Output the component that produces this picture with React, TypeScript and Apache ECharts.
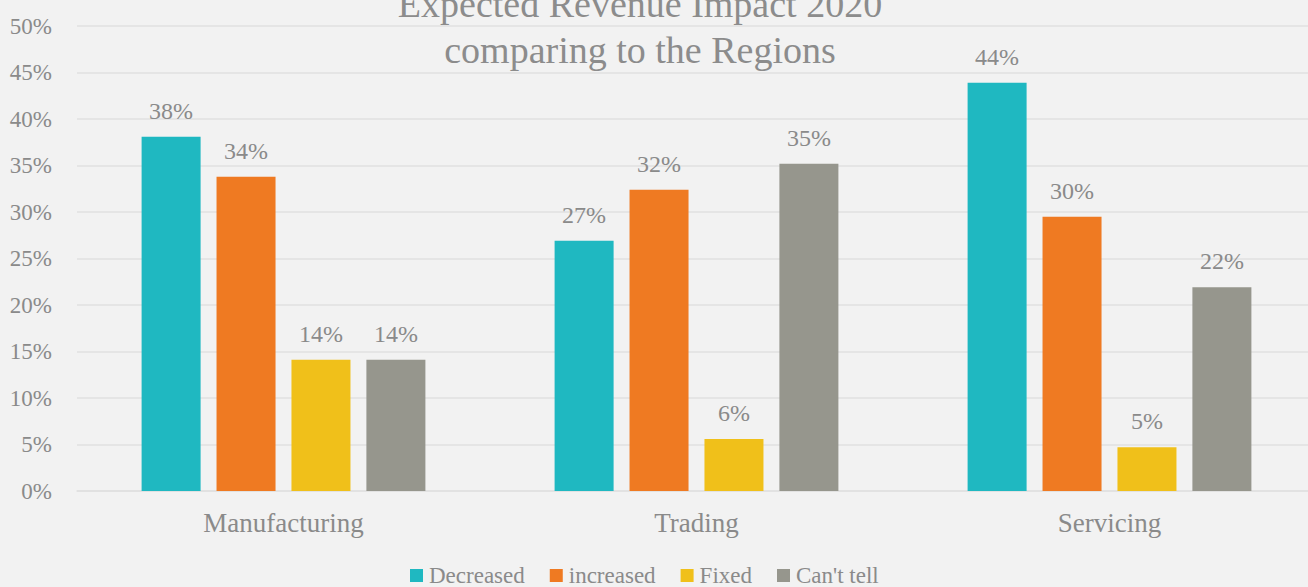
import React, { useEffect, useRef } from "react";
import * as echarts from "echarts";

const categories = ["Manufacturing", "Trading", "Servicing"];
const seriesNames = ["Decreased", "increased", "Fixed", "Can't tell"];
const decreased = [38.1, 26.9, 43.9];
const increased = [33.8, 32.4, 29.5];
const fixed = [14.1, 5.6, 4.7];
const cantTell = [14.1, 35.2, 21.9];
const colors = ["#1FB8C1", "#EF7A22", "#F0C01A", "#96968D"];
const titleText = "Expected Revenue Impact 2020\ncomparing to the Regions";

const FONT = "'Liberation Serif', 'Times New Roman', serif";
const TEXT = "#8a8a8a";

export default function App() {
  const ref = useRef<HTMLDivElement>(null);
  useEffect(() => {
    if (!ref.current) return;
    const chart = echarts.init(ref.current, undefined, { renderer: "svg" });
    const values = [decreased, increased, fixed, cantTell];
    chart.setOption({
      animation: false,
      backgroundColor: "#F2F2F2",
      textStyle: { fontFamily: FONT },
      title: {
        text: titleText,
        left: 635,
        top: -24,
        textAlign: "center",
        textStyle: {
          fontFamily: FONT,
          fontSize: 38,
          lineHeight: 46,
          fontWeight: "normal",
          color: "#8c8c8c",
        },
      },
      legend: {
        left: 405,
        top: 559,
        itemWidth: 13,
        itemHeight: 13,
        itemGap: 25,
        icon: "rect",
        textStyle: { fontFamily: FONT, fontSize: 23, color: TEXT, padding: [0, 0, 0, 1] },
        data: seriesNames,
      },
      grid: {
        left: 77,
        width: 1239,
        top: 26,
        bottom: 96,
        containLabel: false,
        outerBoundsMode: "none",
      },
      xAxis: {
        type: "category",
        data: categories,
        axisLine: { lineStyle: { color: "#E0E0E0", width: 1.5 } },
        axisTick: { show: false },
        axisLabel: { fontFamily: FONT, fontSize: 27, color: TEXT, margin: 18 },
      },
      yAxis: {
        type: "value",
        min: 0,
        max: 50,
        interval: 5,
        axisLine: { show: false },
        axisTick: { show: false },
        axisLabel: {
          fontFamily: FONT,
          fontSize: 23,
          color: TEXT,
          margin: 25,
          formatter: "{value}%",
        },
        splitLine: { lineStyle: { color: "#E0E0E0", width: 1.5 } },
      },
      series: seriesNames.map((name, i) => ({
        name,
        type: "bar",
        data: values[i],
        barWidth: 59,
        barGap: "27%",
        itemStyle: { color: colors[i] },
        label: {
          show: true,
          position: "top",
          distance: 14,
          fontFamily: FONT,
          fontSize: 24,
          color: TEXT,
          formatter: (p: any) => Math.round(p.value) + "%",
        },
      })),
    });
    return () => chart.dispose();
  }, []);
  return (
    <div
      ref={ref}
      style={{ position: "fixed", left: 0, top: 0, width: 1308, height: 587 }}
    />
  );
}
